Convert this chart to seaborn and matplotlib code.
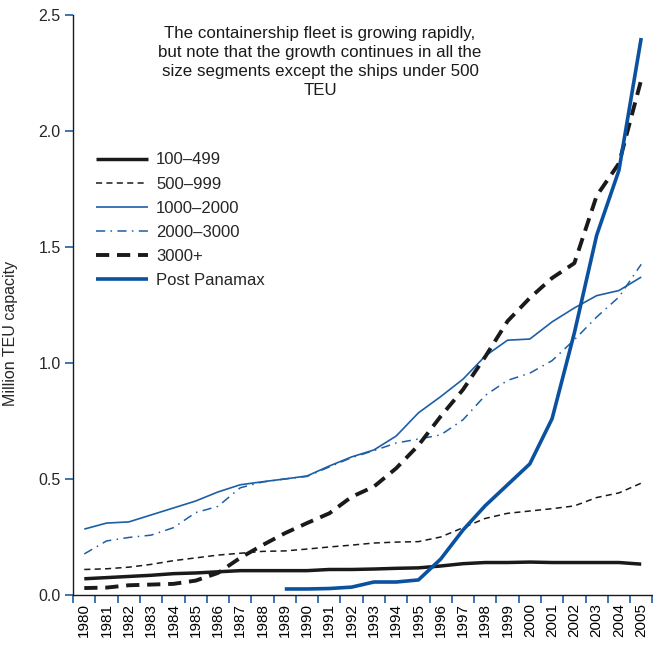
import numpy as np
import pandas as pd
import matplotlib
matplotlib.use("Agg")
import matplotlib.pyplot as plt
import seaborn as sns

years = list(range(1980, 2006))
s_100_499 = [0.070, 0.075, 0.080, 0.085, 0.092, 0.095, 0.100, 0.105, 0.105, 0.105,
             0.105, 0.110, 0.110, 0.112, 0.115, 0.117, 0.125, 0.135, 0.140, 0.140,
             0.142, 0.140, 0.140, 0.140, 0.140, 0.133]
s_500_999 = [0.110, 0.113, 0.120, 0.132, 0.148, 0.160, 0.172, 0.180, 0.188, 0.190,
             0.198, 0.207, 0.215, 0.224, 0.228, 0.230, 0.250, 0.290, 0.330, 0.352,
             0.362, 0.372, 0.384, 0.420, 0.440, 0.482]
s_1000_2000 = [0.284, 0.310, 0.315, 0.345, 0.375, 0.405, 0.444, 0.475, 0.488, 0.500,
               0.513, 0.556, 0.595, 0.625, 0.685, 0.785, 0.855, 0.930, 1.030, 1.098,
               1.103, 1.177, 1.237, 1.290, 1.312, 1.370]
s_2000_3000 = [0.177, 0.233, 0.248, 0.258, 0.290, 0.355, 0.382, 0.462, 0.487, 0.500,
               0.511, 0.552, 0.592, 0.622, 0.655, 0.672, 0.690, 0.755, 0.860, 0.925,
               0.956, 1.010, 1.100, 1.198, 1.284, 1.425]
s_3000 = [0.030, 0.032, 0.042, 0.045, 0.048, 0.062, 0.095, 0.160, 0.215, 0.266,
          0.310, 0.352, 0.423, 0.467, 0.546, 0.645, 0.770, 0.885, 1.027, 1.180,
          1.280, 1.366, 1.430, 1.720, 1.860, 2.220]
s_post_panamax = [np.nan] * 9 + [0.026, 0.026, 0.028, 0.034, 0.056, 0.056, 0.065,
                                  0.155, 0.280, 0.385, 0.475, 0.565, 0.760, 1.130,
                                  1.550, 1.830, 2.400]

series_names = ["100–499", "500–999", "1000–2000", "2000–3000", "3000+", "Post Panamax"]
series_values = [s_100_499, s_500_999, s_1000_2000, s_2000_3000, s_3000, s_post_panamax]

title_text = ("The containership fleet is growing rapidly,\n"
              "but note that the growth continues in all the\n"
              "size segments except the ships under 500\nTEU")

sns.set_style("ticks")
plt.rcParams["font.family"] = ["Liberation Sans", "DejaVu Sans"]

BLUE_THIN = "#1d5fa6"
BLUE_THICK = "#0a52a0"
BLACK = "#1a1a1a"
styles = {
    "100–499": dict(color=BLACK, lw=2.5, ls="-"),
    "500–999": dict(color=BLACK, lw=1.1, ls=(0, (4, 2.8))),
    "1000–2000": dict(color=BLUE_THIN, lw=1.2, ls="-"),
    "2000–3000": dict(color=BLUE_THIN, lw=1.1, ls=(0, (6, 3.5, 1, 3.5))),
    "3000+": dict(color=BLACK, lw=2.8, ls=(0, (3.4, 2.0))),
    "Post Panamax": dict(color=BLUE_THICK, lw=2.6, ls="-"),
}

df = pd.DataFrame({"year": years})
for n, v in zip(series_names, series_values):
    df[n] = v

fig = plt.figure(figsize=(6.53, 6.45), dpi=100)
ax = fig.add_axes([0.112, 0.0775, 0.887, 0.8995])

for n in series_names:
    st = styles[n]
    sns.lineplot(data=df, x="year", y=n, ax=ax, color=st["color"], linewidth=st["lw"],
                 linestyle=st["ls"], label=n, solid_capstyle="butt", dash_capstyle="butt")

ax.set_xlim(1979.5, 2005.5)
ax.set_ylim(0, 2.5)
ax.set_xticks(years)
ax.set_xticklabels([str(y) for y in years], rotation=90)
ax.set_xticks([y - 0.5 for y in years] + [2005.5], minor=True)
ax.tick_params(axis="x", which="major", length=0, pad=6, labelsize=11, colors="black")
ax.tick_params(axis="x", which="minor", length=6, width=1.2, color=BLUE_THIN, direction="out")
ax.set_yticks([0, 0.5, 1.0, 1.5, 2.0, 2.5])
ax.set_yticklabels(["0.0", "0.5", "1.0", "1.5", "2.0", "2.5"])
ax.tick_params(axis="y", length=6, width=1.2, color=BLUE_THIN, labelsize=11.5, pad=3)
ax.set_xlabel("")
ax.set_ylabel("Million TEU capacity", fontsize=11.5)
ax.yaxis.set_label_coords(-0.095, 0.45)
for sp in ["top", "right"]:
    ax.spines[sp].set_visible(False)
for sp in ["left", "bottom"]:
    ax.spines[sp].set_color(BLACK)
    ax.spines[sp].set_linewidth(1.0)

leg = ax.legend(loc="upper left", bbox_to_anchor=(0.04, 0.763), frameon=False,
                fontsize=12, handlelength=3.1, handletextpad=0.48,
                labelspacing=0.55, borderpad=0, borderaxespad=0)

fig.text(0.49, 0.904, title_text, ha="center", va="center", fontsize=12.2,
         multialignment="center", linespacing=1.33, color=BLACK)

fig.savefig("out.png", dpi=100)
